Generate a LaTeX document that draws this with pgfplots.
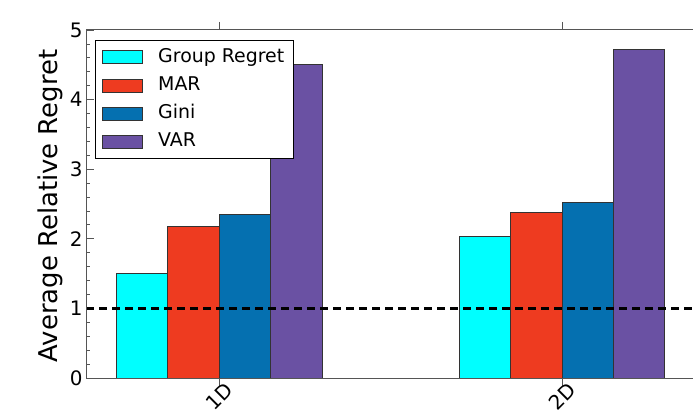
\documentclass[border=0pt]{standalone}
\usepackage{pgfplots}
\pgfplotsset{compat=1.18}
\usepackage{fontspec}
\setmainfont{DejaVu Sans}
\definecolor{cgr}{HTML}{00FFFF}
\definecolor{cmar}{HTML}{EE3B20}
\definecolor{cgini}{HTML}{0570B0}
\definecolor{cvar}{HTML}{6A51A3}
\definecolor{spine}{HTML}{555555}
\begin{document}
\begin{tikzpicture}[x=1bp,y=1bp]
\path[use as bounding box] (-86,-38) rectangle (607,378);
\begin{axis}[
  at={(0,0)}, anchor=south west,
  width=607bp, height=348bp, scale only axis,
  xmin=-0.388, xmax=1.382, ymin=0, ymax=5,
  xtick={0,1}, xticklabels={1D,2D},
  ytick={0,1,2,3,4,5}, minor y tick num=4,
  tick align=inside, ytick pos=left,
  major tick length=8bp, minor tick length=4bp,
  tick style={spine, line width=0.8bp},
  axis line style={draw=none},
  /pgf/number format/assume math mode=true,
  tick label style={font=\fontsize{20}{24}\selectfont},
  xticklabel style={yshift=-10bp, rotate=45, anchor=center},
  ylabel={Average Relative Regret},
  ylabel style={font=\fontsize{26}{30}\selectfont, xshift=-2bp},
  ybar, bar width=0.15,
  legend cell align=left,
  legend image code/.code={\draw[#1] (0bp,-6.5bp) rectangle (40bp,6.5bp);},
  legend style={at={(rel axis cs:0,1)}, anchor=north west, xshift=9bp, yshift=-10bp,
    draw=black, line width=0.8bp, font=\fontsize{19}{22}\selectfont,
    inner xsep=7bp, inner ysep=6bp, row sep=6bp,
    nodes={inner sep=2bp, text height=14bp, text depth=4bp},
    /tikz/every odd column/.append style={column sep=13bp}},
]
\addplot[fill=cgr, draw=black!80, line width=0.8bp, bar shift=-0.225] coordinates {(0,1.505) (1,2.03)};
\addlegendentry{Group Regret}
\addplot[fill=cmar, draw=black!80, line width=0.8bp, bar shift=-0.075] coordinates {(0,2.18) (1,2.38)};
\addlegendentry{MAR}
\addplot[fill=cgini, draw=black!80, line width=0.8bp, bar shift=0.075] coordinates {(0,2.35) (1,2.52)};
\addlegendentry{Gini}
\addplot[fill=cvar, draw=black!80, line width=0.8bp, bar shift=0.225] coordinates {(0,4.50) (1,4.72)};
\addlegendentry{VAR}
\addplot[sharp plot, black, line width=2.2bp, dash pattern=on 8bp off 5bp, forget plot] coordinates {(-0.388,1) (1.382,1)};
\draw[spine, line width=1bp] (rel axis cs:1,1) -- (rel axis cs:0,1) -- (rel axis cs:0,0) -- (rel axis cs:1,0);
\end{axis}
\end{tikzpicture}
\end{document}
